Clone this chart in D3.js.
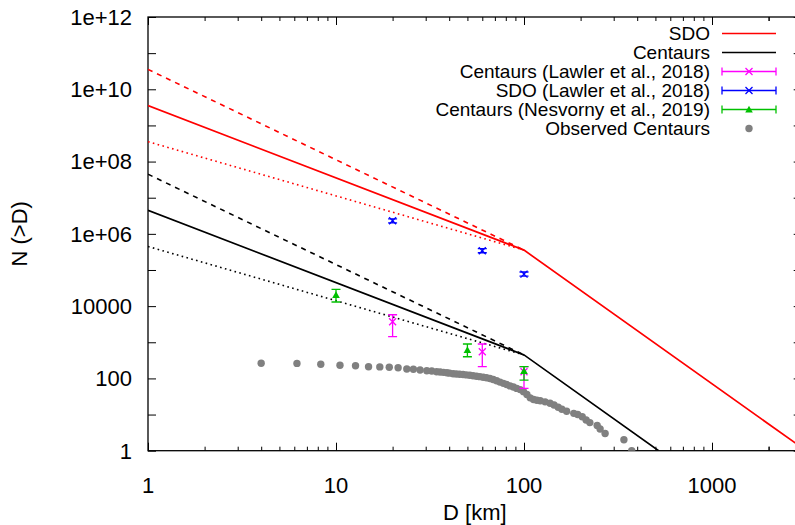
<!DOCTYPE html>
<html>
<head>
<meta charset="utf-8">
<script src="https://cdn.jsdelivr.net/npm/d3@7"></script>
<style>
  html, body { margin: 0; padding: 0; background: #fff; }
  svg { display: block; font-family: "Liberation Sans", Arial, Helvetica, sans-serif; }
</style>
</head>
<body>
<svg id="chart" width="795" height="525"></svg>
<script>
// ---------------- data ----------------
const xTickValues = [1, 10, 100, 1000];
const xTickLabels = ["1", "10", "100", "1000"];
const yTickValues = [1, 100, 1e4, 1e6, 1e8, 1e10, 1e12];
const yTickLabels = ["1", "100", "10000", "1e+06", "1e+08", "1e+10", "1e+12"];

// model curves: [D, N(>D)]
const sdoSolid   = [[1, 3.55e9], [100, 3.55e5], [3000, 1.22]];
const sdoDashed  = [[1, 3.55e10], [100, 3.55e5]];
const sdoDotted  = [[1, 3.55e8], [100, 3.55e5]];
const cenSolid   = [[1, 4.47e6], [100, 447], [520, 1]];
const cenDashed  = [[1, 4.47e7], [100, 447]];
const cenDotted  = [[1, 4.47e5], [100, 447]];

// error-bar data: [D, N, Nlow, Nhigh]
const centaursLawler = [[20, 3700, 1430, 5780], [60, 547, 211, 895], [100, 153, 53, 211]];
const sdoLawler      = [[20, 2.30e6, 2.0e6, 2.6e6], [60, 3.41e5, 3.0e5, 3.9e5], [100, 7.7e4, 6.8e4, 8.8e4]];
const centaursNesv   = [[10, 2.03e4, 1.30e4, 2.92e4], [50, 611, 398, 895], [100, 160, 90, 211]];

// observed centaurs: [D, N(>D)]
const observedD = [4.0, 6.2, 8.3, 10.5, 12.7, 14.9, 17.1, 19.2, 21.4, 23.8, 25.8, 28.0, 30.4, 32.3,
  34.3, 35.8, 37.3, 38.9, 40.2, 42.0, 43.7, 45.5, 47.4, 49.4, 51.5, 53.6, 55.9, 58.2, 60.7, 63.2,
  65.9, 68.6, 71.5, 74.5, 77.7, 80.9, 84.3, 87.8, 91.5, 95.4, 99.4, 103.6, 107.9, 112.4, 117.1,
  122, 129.5, 137.6, 144.5, 152, 159, 168.5, 184, 193, 204, 214, 224, 245, 254, 270, 340, 374];
const observedN = [262, 260, 247, 232, 224, 211, 208, 204, 198, 182, 179, 171, 163, 160,
  153, 150, 147, 144, 140, 135, 132, 130, 128, 125, 122, 118, 115, 112, 108, 104,
  99, 93, 86, 79, 73, 68, 62, 58, 53, 49, 43, 36, 29, 26, 25,
  24, 22.5, 20.5, 18.4, 15.9, 14, 12.3, 10.8, 10, 8.7, 7.1, 6, 5, 4, 3, 2, 1];

const legendLabels = ["SDO", "Centaurs", "Centaurs (Lawler et al., 2018)", "SDO (Lawler et al., 2018)",
  "Centaurs (Nesvorny et al., 2019)", "Observed Centaurs"];

// ---------------- layout ----------------
const L = 148, T = 17, R = 801.7, B = 450.7;
const RED = "#ff0000", BLACK = "#000000", MAGENTA = "#ff00ff", BLUE = "#0000ff", GREEN = "#00c000", GRAY = "#808080";

const svg = d3.select("#chart");
const x = d3.scaleLog().domain([1, 3000]).range([L, R]);
const y = d3.scaleLog().domain([1, 1e12]).range([B, T]);

svg.append("defs").append("clipPath").attr("id", "plotclip")
  .append("rect").attr("x", L).attr("y", T).attr("width", R - L).attr("height", B - T);

// axes
const xMinor = [];
[1, 10, 100, 1000].forEach(dec => { for (let k = 2; k <= 9; k++) if (dec * k <= 3000) xMinor.push(dec * k); });
xMinor.push(2000, 3000);

const axisG = svg.append("g");
function tickLines(g, axis) { return g.call(axis).call(s => s.select(".domain").remove()); }

// bottom major
axisG.append("g").attr("transform", `translate(0,${B})`)
  .call(d3.axisTop(x).tickValues(xTickValues).tickSize(8).tickFormat(""))
  .call(s => s.select(".domain").remove());
axisG.append("g").attr("transform", `translate(0,${B})`)
  .call(d3.axisTop(x).tickValues(xMinor.filter(v => !xTickValues.includes(v))).tickSize(4).tickFormat(""))
  .call(s => s.select(".domain").remove());
// top mirror
axisG.append("g").attr("transform", `translate(0,${T})`)
  .call(d3.axisBottom(x).tickValues(xTickValues).tickSize(8).tickFormat(""))
  .call(s => s.select(".domain").remove());
axisG.append("g").attr("transform", `translate(0,${T})`)
  .call(d3.axisBottom(x).tickValues(xMinor.filter(v => !xTickValues.includes(v))).tickSize(4).tickFormat(""))
  .call(s => s.select(".domain").remove());
// left / right ticks every decade
const yDecades = d3.range(0, 13).map(e => Math.pow(10, e));
axisG.append("g").attr("transform", `translate(${L},0)`)
  .call(d3.axisRight(y).tickValues(yDecades).tickSize(8).tickFormat(""))
  .call(s => s.select(".domain").remove());
axisG.append("g").attr("transform", `translate(${R},0)`)
  .call(d3.axisLeft(y).tickValues(yDecades).tickSize(8).tickFormat(""))
  .call(s => s.select(".domain").remove());
axisG.selectAll("line").attr("stroke", "#000").attr("stroke-width", 1);

// border
svg.append("rect").attr("x", L).attr("y", T).attr("width", R - L).attr("height", B - T)
  .attr("fill", "none").attr("stroke", "#000").attr("stroke-width", 1.3);

// tick labels
svg.append("g").selectAll("text").data(xTickValues).join("text")
  .attr("x", d => x(d)).attr("y", 493).attr("text-anchor", "middle")
  .attr("font-size", 22).text((d, i) => xTickLabels[i]);
svg.append("g").selectAll("text").data(yTickValues).join("text")
  .attr("x", 132).attr("y", d => y(d)).attr("dy", "0.36em").attr("text-anchor", "end")
  .attr("font-size", 22).text((d, i) => yTickLabels[i]);

// axis titles
svg.append("text").attr("x", (L + R) / 2).attr("y", 520).attr("text-anchor", "middle")
  .attr("font-size", 22).text("D [km]");
svg.append("text").attr("transform", `translate(27,${(T + B) / 2}) rotate(-90)`)
  .attr("text-anchor", "middle").attr("font-size", 22).text("N (>D)");

// plot content
const plot = svg.append("g").attr("clip-path", "url(#plotclip)");
const line = d3.line().x(d => x(d[0])).y(d => y(d[1]));

function drawLine(data, color, dash, width) {
  plot.append("path").datum(data).attr("d", line).attr("fill", "none")
    .attr("stroke", color).attr("stroke-width", width || 1.6)
    .attr("stroke-dasharray", dash || null);
}
drawLine(sdoDashed, RED, "5,5");
drawLine(sdoDotted, RED, "1.6,3.4");
drawLine(sdoSolid, RED, null, 1.7);
drawLine(cenDashed, BLACK, "5,5");
drawLine(cenDotted, BLACK, "1.6,3.4");
drawLine(cenSolid, BLACK, null, 1.7);

// observed centaurs
const obs = observedD.map((d, i) => [d, observedN[i]]);
plot.append("g").selectAll("circle").data(obs).join("circle")
  .attr("cx", d => x(d[0])).attr("cy", d => y(d[1])).attr("r", 3.7).attr("fill", GRAY);

// error bars
function crossPath(cx, cy, s) {
  return `M${cx - s},${cy - s}L${cx + s},${cy + s}M${cx - s},${cy + s}L${cx + s},${cy - s}`;
}
function triPath(cx, cy, s) {
  return `M${cx},${cy - s}L${cx + s},${cy + s * 0.8}L${cx - s},${cy + s * 0.8}Z`;
}
function drawErr(data, color, marker) {
  const g = plot.append("g");
  data.forEach(d => {
    const cx = x(d[0]), cy = y(d[1]), lo = y(d[2]), hi = y(d[3]);
    g.append("line").attr("x1", cx).attr("x2", cx).attr("y1", lo).attr("y2", hi)
      .attr("stroke", color).attr("stroke-width", 1.3);
    [lo, hi].forEach(v => g.append("line").attr("x1", cx - 4.5).attr("x2", cx + 4.5)
      .attr("y1", v).attr("y2", v).attr("stroke", color).attr("stroke-width", 1.3));
    if (marker === "x") g.append("path").attr("d", crossPath(cx, cy, 3.5)).attr("stroke", color).attr("stroke-width", 1.3).attr("fill", "none");
    else g.append("path").attr("d", triPath(cx, cy, 3.8)).attr("fill", color);
  });
}
drawErr(centaursLawler, MAGENTA, "x");
drawErr(sdoLawler, BLUE, "x");
drawErr(centaursNesv, GREEN, "tri");

// legend
const lg = svg.append("g");
const lx0 = 722, lx1 = 776, lmid = 749, ltext = 710;
const legendStyles = [
  {type: "line", color: RED}, {type: "line", color: BLACK},
  {type: "err", color: MAGENTA, marker: "x"}, {type: "err", color: BLUE, marker: "x"},
  {type: "err", color: GREEN, marker: "tri"}, {type: "dot", color: GRAY}
];
legendLabels.forEach((lab, i) => {
  const ly = 33.5 + i * 19;
  lg.append("text").attr("x", ltext).attr("y", ly).attr("dy", "0.36em").attr("text-anchor", "end")
    .attr("font-size", 19).text(lab);
  const st = legendStyles[i];
  if (st.type === "line") {
    lg.append("line").attr("x1", lx0).attr("x2", lx1).attr("y1", ly).attr("y2", ly)
      .attr("stroke", st.color).attr("stroke-width", 1.6);
  } else if (st.type === "err") {
    lg.append("line").attr("x1", lx0).attr("x2", lx1).attr("y1", ly).attr("y2", ly)
      .attr("stroke", st.color).attr("stroke-width", 1.3);
    [lx0, lx1].forEach(v => lg.append("line").attr("x1", v).attr("x2", v).attr("y1", ly - 4).attr("y2", ly + 4)
      .attr("stroke", st.color).attr("stroke-width", 1.3));
    if (st.marker === "x") lg.append("path").attr("d", crossPath(lmid, ly, 3.5)).attr("stroke", st.color).attr("stroke-width", 1.3).attr("fill", "none");
    else lg.append("path").attr("d", triPath(lmid, ly, 3.8)).attr("fill", st.color);
  } else {
    lg.append("circle").attr("cx", lmid).attr("cy", ly).attr("r", 3.7).attr("fill", st.color);
  }
});
</script>
</body>
</html>
